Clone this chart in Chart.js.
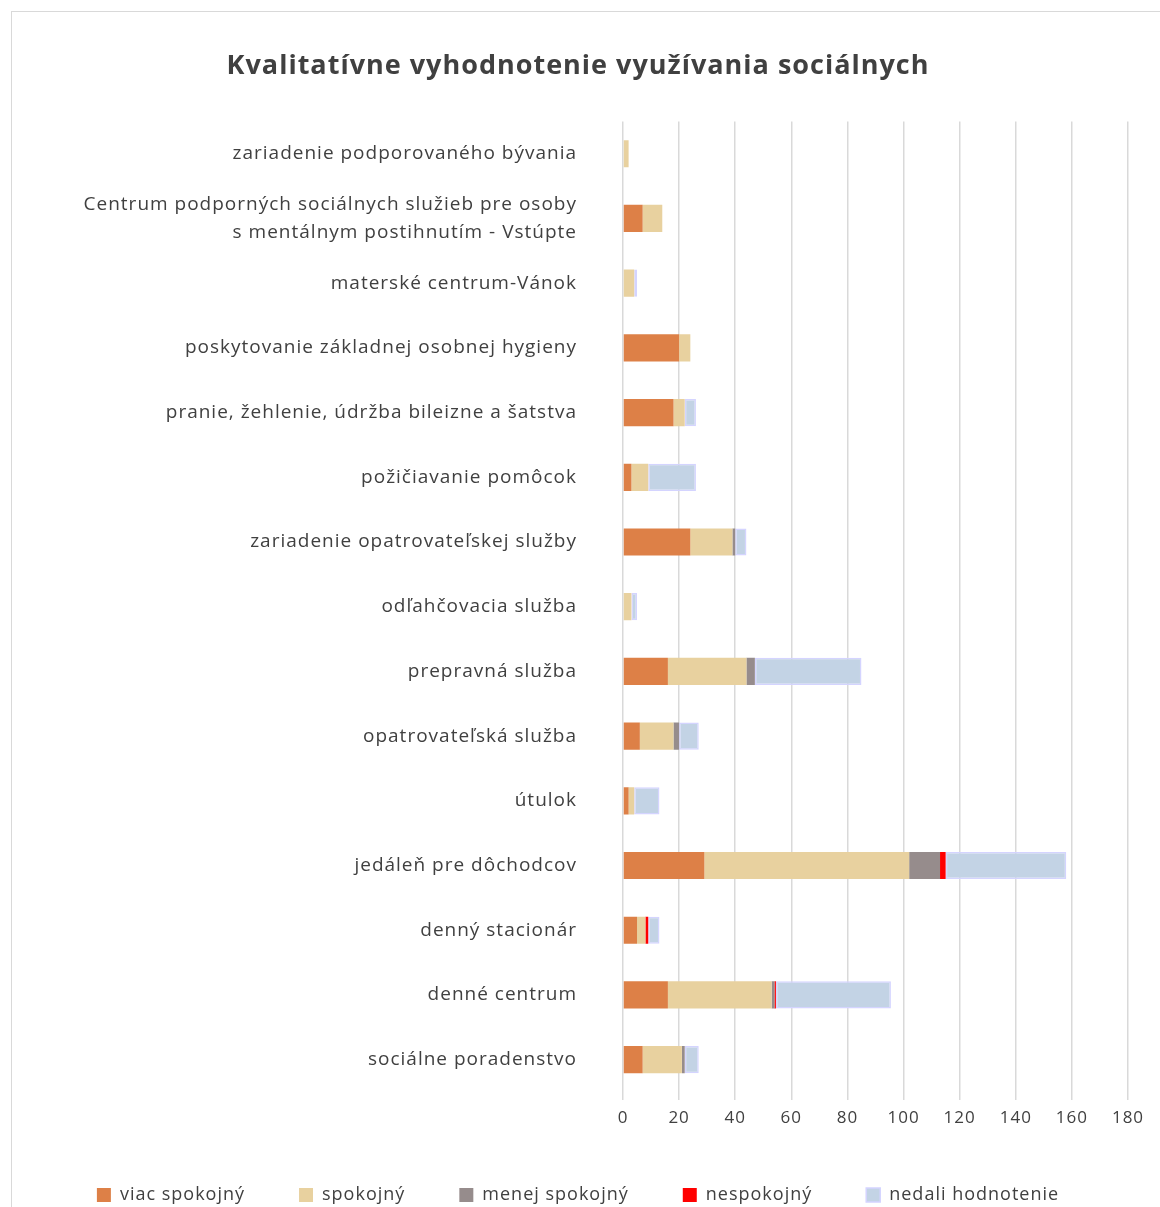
<!DOCTYPE html>
<html>
<head>
<meta charset="utf-8">
<script src="https://cdn.jsdelivr.net/npm/chart.js@4.4.1/dist/chart.umd.min.js"></script>
<style>
  html, body { margin: 0; padding: 0; background: #fff; }
  #frame { position: absolute; left: 11px; top: 11px; right: 0; bottom: 0; border-left: 1px solid #d9d9d9; border-top: 1px solid #d9d9d9; }
  #myChart { position: absolute; left: 0; top: 0; }
</style>
</head>
<body>
<div id="frame"></div>
<canvas id="myChart" width="1160" height="1207"></canvas>
<script>
// kategórie zhora nadol
const categories = [
  'zariadenie podporovaného bývania',
  ['Centrum podporných sociálnych služieb pre osoby', 's mentálnym postihnutím - Vstúpte'],
  'materské centrum-Vánok',
  'poskytovanie základnej osobnej hygieny',
  'pranie, žehlenie, údržba bileizne a šatstva',
  'požičiavanie pomôcok',
  'zariadenie opatrovateľskej služby',
  'odľahčovacia služba',
  'prepravná služba',
  'opatrovateľská služba',
  'útulok',
  'jedáleň pre dôchodcov',
  'denný stacionár',
  'denné centrum',
  'sociálne poradenstvo'
];

const viacSpokojny = [0, 7, 0, 20, 18, 3, 24, 0, 16, 6, 2, 29, 5, 16, 7];
const spokojny     = [2, 7, 4, 4, 4, 6, 15, 3, 28, 12, 2, 73, 3, 37, 14];
const menejSpokojny = [0, 0, 0, 0, 0, 0, 1, 0, 3, 2, 0, 11, 0, 1, 1];
const nespokojny   = [0, 0, 0, 0, 0, 0, 0, 0, 0, 0, 0, 2, 1, 0.5, 0];
const nedali       = [0, 0, 1, 0, 4, 17, 4, 2, 38, 7, 9, 43, 4, 41, 5];

const xTicks = [0, 20, 40, 60, 80, 100, 120, 140, 160, 180];

const textColor = '#404040';

// písmo v originále je riedke, tak trochu rozostúpime znaky
const letterSpacing = {
  id: 'letterSpacing',
  beforeLayout(chart) { chart.ctx.letterSpacing = '1px'; },
  beforeDraw(chart) { chart.ctx.letterSpacing = '1px'; }
};

const ctx = document.getElementById('myChart').getContext('2d');
const myChart = new Chart(ctx, {
  type: 'bar',
  data: {
    labels: categories,
    datasets: [
      { label: 'viac spokojný', data: viacSpokojny, backgroundColor: '#dd8047' },
      { label: 'spokojný', data: spokojny, backgroundColor: '#e8d19f' },
      { label: 'menej spokojný', data: menejSpokojny, backgroundColor: '#968c8c' },
      { label: 'nespokojný', data: nespokojny, backgroundColor: '#ff0000' },
      { label: 'nedali hodnotenie', data: nedali, backgroundColor: '#c3d3e5', borderColor: '#d4d4ff', borderWidth: 1.5, borderSkipped: false }
    ]
  },
  plugins: [letterSpacing],
  options: {
    indexAxis: 'y',
    responsive: false,
    animation: false,
    devicePixelRatio: 1,
    barPercentage: 0.42,
    categoryPercentage: 1,
    layout: { padding: { left: 28, right: 32, top: 0, bottom: 0 } },
    scales: {
      x: {
        stacked: true,
        min: 0,
        max: 180,
        afterBuildTicks: (scale) => { scale.ticks = xTicks.map(v => ({ value: v })); },
        afterFit: (scale) => { scale.height = 40; },
        grid: { color: '#d9d9d9', lineWidth: 1.5, tickLength: 8 },
        border: { display: false },
        ticks: { color: textColor, padding: 8, font: { family: 'Open Sans', size: 17 } }
      },
      y: {
        stacked: true,
        afterFit: (scale) => { scale.width = 595; },
        grid: { display: false },
        border: { display: false },
        ticks: { color: textColor, padding: 38, autoSkip: false, font: { family: 'Open Sans', size: 19, lineHeight: 1.5 } }
      }
    },
    plugins: {
      title: {
        display: true,
        text: 'Kvalitatívne vyhodnotenie využívania sociálnych',
        color: textColor,
        font: { family: 'Open Sans', size: 27, weight: 'bold' },
        padding: { top: 50, bottom: 39 }
      },
      legend: {
        position: 'bottom',
        maxHeight: 75,
        labels: {
          color: textColor,
          boxWidth: 14,
          boxHeight: 14,
          padding: 54,
          font: { family: 'Open Sans', size: 18 }
        }
      },
      tooltip: { enabled: false }
    }
  }
});
</script>
</body>
</html>
